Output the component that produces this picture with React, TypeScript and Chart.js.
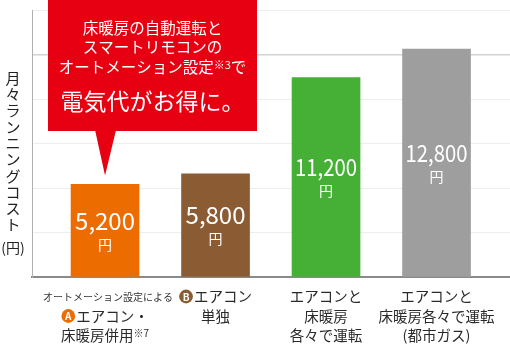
import { useEffect, useRef } from 'react';
import { Chart, registerables } from 'chart.js';
Chart.register(...registerables);

const categories = ['A', 'B', 'C', 'D'];
const costs = [5200, 5800, 11200, 12800];
const costLabels = ['5,200', '5,800', '11,200', '12,800'];
const unitLabel = '円';
const barColors = ['#ec6c00', '#8b5c33', '#45b035', '#9e9e9f'];
const xLabelNotes = ['オートメーション設定による', '', '', ''];
const xLabels = [
  ['Ⓐエアコン・', '床暖房併用※7'],
  ['Ⓑエアコン', '単独'],
  ['エアコンと', '床暖房', '各々で運転'],
  ['エアコンと', '床暖房各々で運転', '(都市ガス)'],
];
const yTitle = '月々ランニングコスト';
const yUnit = '(円)';
const yMax = 15000;
const yStep = 2500;
const calloutLines = ['床暖房の自動運転と', 'スマートリモコンの', 'オートメーション設定※3で'];
const calloutHeadline = '電気代がお得に。';

const FONT = '"Noto Sans CJK JP", "Noto Sans", sans-serif';
const RED = '#e60012';

type Seg = { kind: 'text' | 'small' | 'circle'; t: string; color?: string };

function parseLine(line: string): Seg[] {
  const segs: Seg[] = [];
  let rest = line;
  const circ: Record<string, [string, number]> = { 'Ⓐ': ['A', 0], 'Ⓑ': ['B', 1] };
  if (circ[rest[0]]) {
    segs.push({ kind: 'circle', t: circ[rest[0]][0], color: barColors[circ[rest[0]][1]] });
    rest = rest.slice(1);
  }
  const m = rest.match(/^(.*?)(※\d)(.*)$/);
  if (m) {
    if (m[1]) segs.push({ kind: 'text', t: m[1] });
    segs.push({ kind: 'small', t: m[2] });
    if (m[3]) segs.push({ kind: 'text', t: m[3] });
  } else if (rest) segs.push({ kind: 'text', t: rest });
  return segs;
}

function drawSegLine(ctx: CanvasRenderingContext2D, line: string, cx: number, y: number, size: number, color: string, circleTextColor = '#fff') {
  const segs = parseLine(line);
  const small = Math.round(size * 0.68);
  const widths = segs.map((s) => {
    if (s.kind === 'circle') return size * 0.95 + 1;
    ctx.font = `${s.kind === 'small' ? small : size}px ${FONT}`;
    return ctx.measureText(s.t).width;
  });
  const total = widths.reduce((a, b) => a + b, 0);
  let x = cx - total / 2;
  ctx.textBaseline = 'middle';
  ctx.textAlign = 'left';
  segs.forEach((s, i) => {
    if (s.kind === 'circle') {
      const r = size * 0.475;
      ctx.beginPath();
      ctx.fillStyle = s.color || color;
      ctx.arc(x + r, y, r, 0, Math.PI * 2);
      ctx.fill();
      ctx.fillStyle = circleTextColor;
      ctx.font = `bold ${Math.round(size * 0.72)}px ${FONT}`;
      ctx.textAlign = 'center';
      ctx.fillText(s.t, x + r, y + 0.5);
      ctx.textAlign = 'left';
    } else {
      ctx.fillStyle = color;
      ctx.font = `${s.kind === 'small' ? small : size}px ${FONT}`;
      ctx.fillText(s.t, x, s.kind === 'small' ? y - size * 0.15 : y);
    }
    x += widths[i];
  });
}

const labelPlugin = {
  id: 'customLabels',
  afterDraw(chart: any) {
    const ctx: CanvasRenderingContext2D = chart.ctx;
    const xs = chart.scales.x;
    const meta = chart.getDatasetMeta(0);
    ctx.save();

    // value labels inside bars
    meta.data.forEach((bar: any, i: number) => {
      const top = bar.y;
      const bottom = bar.base;
      const mid = (top + bottom) / 2;
      ctx.fillStyle = '#ffffff';
      ctx.textAlign = 'center';
      ctx.textBaseline = 'middle';
      ctx.font = `24px ${FONT}`;
      ctx.fillText(costLabels[i], bar.x, mid - 10, 62);
      ctx.font = `14px ${FONT}`;
      ctx.fillText(unitLabel, bar.x, mid + 14);
    });

    // x labels
    categories.forEach((_, i) => {
      const cx = xs.getPixelForValue(i + 1);
      let row = 0;
      const base = chart.chartArea.bottom + 19.5;
      if (xLabelNotes[i]) {
        ctx.fillStyle = '#333';
        ctx.textAlign = 'center';
        ctx.textBaseline = 'middle';
        ctx.font = `10px ${FONT}`;
        ctx.fillText(xLabelNotes[i], cx + 3, base + 1);
        row = 1;
      }
      xLabels[i].forEach((line, j) => {
        drawSegLine(ctx, line, cx, base + (row + j) * 19.5, 14.5, '#2a2a2a');
      });
    });

    // y title (vertical)
    ctx.fillStyle = '#222';
    ctx.textAlign = 'center';
    ctx.textBaseline = 'middle';
    ctx.font = `15px ${FONT}`;
    const chars = Array.from(yTitle);
    chars.forEach((ch, i) => {
      ctx.fillText(ch, 13, 78 + i * 16.3);
    });
    ctx.font = `14px ${FONT}`;
    ctx.fillText(yUnit, 13, 248);

    // callout
    const b0 = meta.data[0];
    const boxL = 48, boxR = 257, boxB = 131;
    ctx.fillStyle = RED;
    ctx.fillRect(boxL, 0, boxR - boxL, boxB);
    ctx.beginPath();
    ctx.moveTo(b0.x - 10, boxB - 1);
    ctx.lineTo(b0.x + 11, boxB - 1);
    ctx.lineTo(b0.x, b0.y - 9);
    ctx.closePath();
    ctx.fill();
    const ccx = (boxL + boxR) / 2;
    const lineYs = [28, 47.5, 67.5];
    calloutLines.forEach((l, i) => drawSegLine(ctx, l, ccx, lineYs[i], 15.5, '#ffffff'));
    ctx.fillStyle = '#ffffff';
    ctx.textAlign = 'center';
    ctx.textBaseline = 'middle';
    ctx.font = `23px ${FONT}`;
    ctx.fillText(calloutHeadline, ccx, 101);

    ctx.restore();
  },
};

export default function App() {
  const ref = useRef<HTMLCanvasElement>(null);
  useEffect(() => {
    document.body.style.margin = '0';
    const canvas = ref.current!;
    const chart = new Chart(canvas, {
      type: 'bar',
      data: {
        datasets: [
          {
            data: costs.map((v, i) => ({ x: i + 1, y: v })),
            backgroundColor: barColors,
            barThickness: 68,
            borderWidth: 0,
          },
        ],
      },
      options: {
        animation: false,
        responsive: false,
        maintainAspectRatio: false,
        layout: { padding: { left: 32, top: 10, right: 0, bottom: 76 } },
        plugins: { legend: { display: false }, tooltip: { enabled: false } },
        scales: {
          x: {
            type: 'linear',
            offset: false,
            min: 0.339,
            max: 4.665,
            ticks: { display: false },
            grid: { display: false, drawTicks: false, offset: false },
            border: { color: '#8a8a8a', width: 2 },
          },
          y: {
            min: 0,
            max: yMax,
            ticks: { display: false, stepSize: yStep },
            grid: {
              drawTicks: false,
              color: (c: any) => (c.tick && c.tick.value === 12500 ? '#d2d2d2' : '#eeeeee'),
              lineWidth: (c: any) => (c.tick && c.tick.value === 12500 ? 1.5 : 1),
            },
            border: { color: '#b0b0b0', width: 1 },
          },
        },
      } as any,
      plugins: [labelPlugin],
    });
    return () => chart.destroy();
  }, []);
  return (
    <div style={{ width: 510, height: 353 }}>
      <canvas ref={ref} width={510} height={353} />
    </div>
  );
}
